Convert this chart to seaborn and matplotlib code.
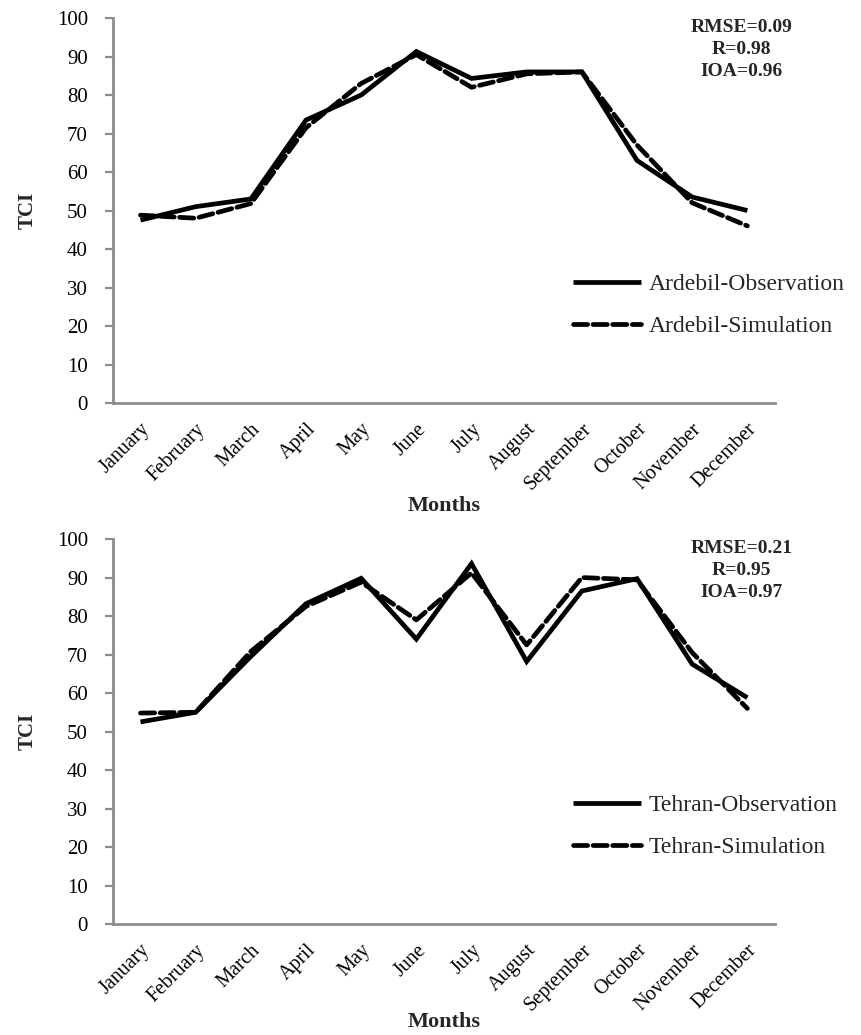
import numpy as np
import pandas as pd
import matplotlib
matplotlib.use("Agg")
import matplotlib.pyplot as plt
import seaborn as sns

months = ["January", "February", "March", "April", "May", "June",
          "July", "August", "September", "October", "November", "December"]

ardebil_obs = [47.5, 51, 53, 73.5, 80, 91.3, 84.3, 86, 86, 63, 53.5, 50]
ardebil_sim = [48.8, 48, 51.8, 71.5, 83, 90.5, 82, 85.5, 86, 67, 52, 46]

tehran_obs = [52.5, 55, 69.5, 83.2, 89.8, 74, 93.6, 68.2, 86.5, 89.7, 67.5, 58.8]
tehran_sim = [54.8, 55, 70.8, 82.5, 88.8, 79, 91.2, 72.5, 90, 89.4, 70.5, 56]

stats_ardebil = ["RMSE=0.09", "R=0.98", "IOA=0.96"]
stats_tehran = ["RMSE=0.21", "R=0.95", "IOA=0.97"]

yticks = list(range(0, 101, 10))

sns.set_theme(style="white")
plt.rcParams["font.family"] = ["Liberation Serif", "DejaVu Serif"]

SPINE = "#8c8c8c"

fig = plt.figure(figsize=(8.62, 10.35), dpi=100)
ax_top = fig.add_axes([0.131, 0.6106, 0.768, 0.372])
ax_bot = fig.add_axes([0.131, 0.1072, 0.768, 0.372])


def draw_panel(ax, obs, sim, city, stats, xlabel_pad):
    obs_label = f"{city}-Observation"
    sim_label = f"{city}-Simulation"
    df = pd.DataFrame({
        "month": list(range(len(months))) * 2,
        "TCI": obs + sim,
        "series": [obs_label] * len(months) + [sim_label] * len(months),
    })
    sns.lineplot(data=df, x="month", y="TCI", style="series",
                 style_order=[obs_label, sim_label],
                 dashes={obs_label: "", sim_label: (3, 1.15)},
                 color="black", linewidth=3.4, legend=False, ax=ax,
                 sort=False)
    for ln in ax.get_lines():
        ln.set_dash_capstyle("round")
        ln.set_solid_capstyle("butt")
        ln.set_solid_joinstyle("miter")

    ax.set_xlim(-0.5, len(months) - 0.5)
    ax.set_ylim(0, 100)
    ax.set_yticks(yticks)
    ax.set_yticklabels([str(v) for v in yticks], fontsize=15)
    ax.set_xticks(range(len(months)))
    ax.set_xticklabels(months, fontsize=14.5, rotation=45, ha="right",
                       rotation_mode="anchor")

    for side in ("top", "right"):
        ax.spines[side].set_visible(False)
    for side in ("left", "bottom"):
        ax.spines[side].set_color(SPINE)
        ax.spines[side].set_linewidth(2)
    ax.tick_params(axis="y", which="both", left=True, length=6, width=1.6,
                   color=SPINE, pad=12, labelcolor="black")
    ax.tick_params(axis="x", which="both", bottom=False, length=0, pad=12,
                   labelcolor="black")

    ax.set_xlabel("Months", fontsize=16, fontweight="bold",
                  labelpad=xlabel_pad)
    ax.set_ylabel("TCI", fontsize=15, fontweight="bold", labelpad=14)

    lines = ax.get_lines()
    ax.legend(handles=lines[:2], labels=[obs_label, sim_label],
              loc="upper left", bbox_to_anchor=(0.695, 0.336),
              frameon=False, fontsize=17, handlelength=2.9,
              handletextpad=0.3, labelspacing=0.85, borderpad=0,
              borderaxespad=0)

    ax.text(0.949, 0.997, "\n".join(stats), transform=ax.transAxes,
            ha="center", va="top", fontsize=14, fontweight="bold",
            linespacing=1.36)


draw_panel(ax_top, ardebil_obs, ardebil_sim, "Ardebil", stats_ardebil, 1.5)
draw_panel(ax_bot, tehran_obs, tehran_sim, "Tehran", stats_tehran, -2)

fig.savefig("out.png", dpi=100, facecolor="white")
